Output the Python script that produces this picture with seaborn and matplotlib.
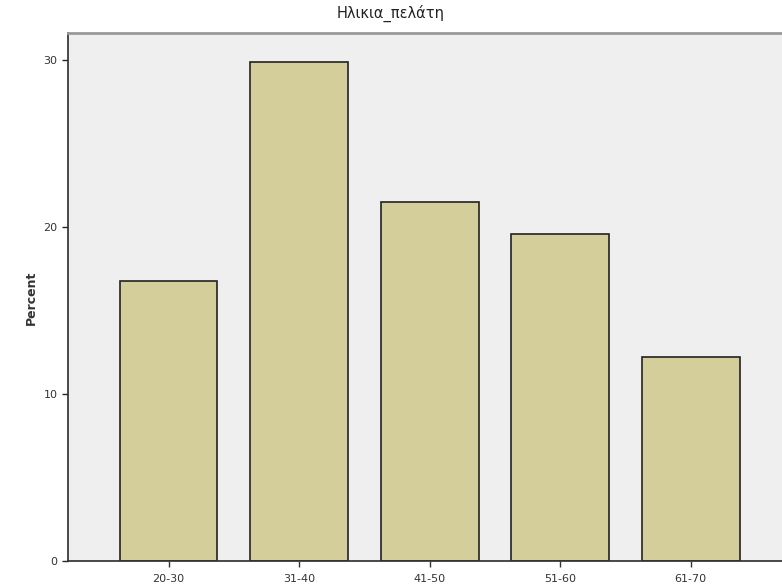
import matplotlib
matplotlib.use("Agg")
import matplotlib.pyplot as plt
import pandas as pd
import seaborn as sns

age_groups = ["20-30", "31-40", "41-50", "51-60", "61-70"]
percent = [16.8, 29.9, 21.5, 19.6, 12.2]
y_ticks = [0, 10, 20, 30]

sns.set_theme(style="white")
plt.rcParams["font.family"] = ["DejaVu Sans"]

df = pd.DataFrame({"age": age_groups, "percent": percent})

fig = plt.figure(figsize=(7.82, 5.87), dpi=100)
ax = fig.add_axes([0.087, 0.044, 0.913, 0.899])
ax.set_facecolor("#efefef")

sns.barplot(data=df, x="age", y="percent", color="#d4cf9a", saturation=1,
            width=0.75, edgecolor="#222222", linewidth=1.2, ax=ax)

ax.set_xlim(-0.77, 4.7)
ax.set_ylim(0, 31.6)
ax.set_yticks(y_ticks)
ax.set_yticklabels([str(t) for t in y_ticks], fontsize=8, color="#333333")
ax.tick_params(axis="x", labelsize=8, colors="#333333", length=4, width=1,
               direction="out", bottom=True, pad=5)
ax.tick_params(axis="y", length=4, width=1, direction="out", left=True)
ax.set_xlabel("")
ax.set_ylabel("Percent", fontsize=9, fontweight="bold", color="#333333")

ax.spines["right"].set_visible(False)
ax.spines["top"].set_color("#999999")
ax.spines["top"].set_linewidth(2)
ax.spines["left"].set_color("#333333")
ax.spines["bottom"].set_color("#333333")

fig.text(0.5, 0.978, "Ηλικια_πελάτη", ha="center", va="center", fontsize=10.5, color="#222222")

fig.savefig("out.png", dpi=100)
